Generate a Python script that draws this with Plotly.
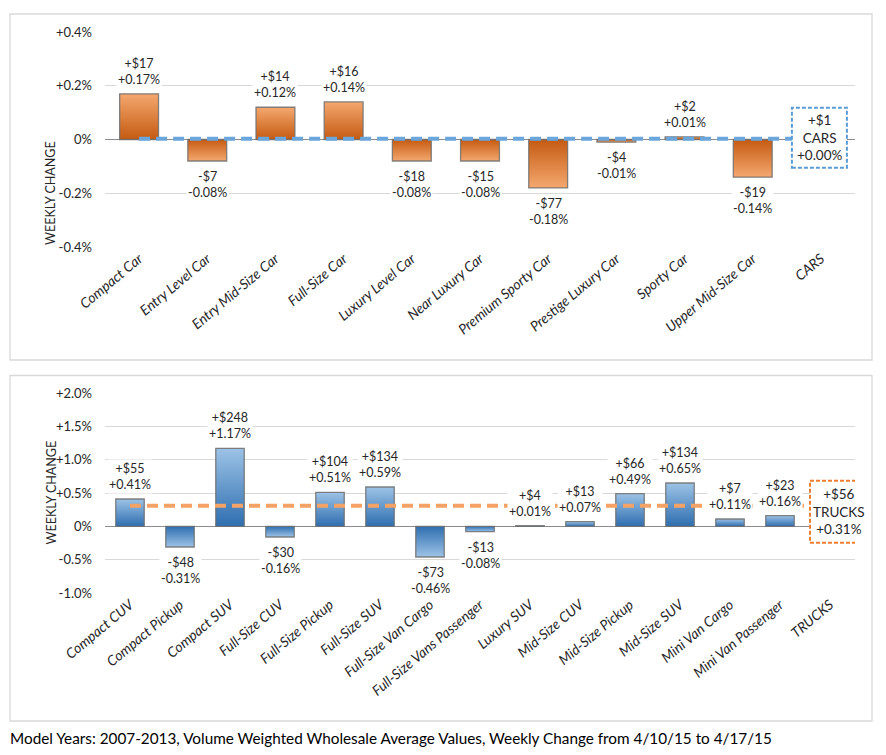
import plotly.graph_objects as go

# ---------------- data ----------------
car_categories = ["Compact Car", "Entry Level Car", "Entry Mid-Size Car", "Full-Size Car",
                  "Luxury Level Car", "Near Luxury Car", "Premium Sporty Car",
                  "Prestige Luxury Car", "Sporty Car", "Upper Mid-Size Car"]
car_total_label = "CARS"
car_pct = [0.17, -0.08, 0.12, 0.14, -0.08, -0.08, -0.18, -0.01, 0.01, -0.14]
car_dollars = [17, -7, 14, 16, -18, -15, -77, -4, 2, -19]
car_total_pct = 0.003
car_total_dollars = 1
car_yticks = [0.4, 0.2, 0, -0.2, -0.4]
car_yticktext = ["+0.4%", "+0.2%", "0%", "-0.2%", "-0.4%"]

truck_categories = ["Compact CUV", "Compact Pickup", "Compact SUV", "Full-Size CUV",
                    "Full-Size Pickup", "Full-Size SUV", "Full-Size Van Cargo",
                    "Full-Size Vans Passenger", "Luxury SUV", "Mid-Size CUV",
                    "Mid-Size Pickup", "Mid-Size SUV", "Mini Van Cargo", "Mini Van Passenger"]
truck_total_label = "TRUCKS"
truck_pct = [0.41, -0.31, 1.17, -0.16, 0.51, 0.59, -0.46, -0.08, 0.01, 0.07, 0.49, 0.65, 0.11, 0.16]
truck_dollars = [55, -48, 248, -30, 104, 134, -73, -13, 4, 13, 66, 134, 7, 23]
truck_total_pct = 0.31
truck_total_dollars = 56
truck_yticks = [2.0, 1.5, 1.0, 0.5, 0, -0.5, -1.0]
truck_yticktext = ["+2.0%", "+1.5%", "+1.0%", "+0.5%", "0%", "-0.5%", "-1.0%"]

footer_text = "Model Years: 2007-2013, Volume Weighted Wholesale Average Values, Weekly Change from 4/10/15 to 4/17/15"

# ---------------- layout geometry ----------------
W, H = 886, 755
FONT = "Lato"
TXT = "#262626"


def px_x(p):
    return p / W


def px_y(p):
    return 1 - p / H


def money(v):
    return ("+$" if v >= 0 else "-$") + str(abs(v))


def pct(v):
    return f"{v:+.2f}%"


fig = go.Figure()

panels = [
    dict(cats=car_categories, total=car_total_label, pct=car_pct, dol=car_dollars,
         tpct=car_total_pct, tdol=car_total_dollars, ticks=car_yticks, ticktext=car_yticktext,
         rng=[-0.4, 0.4], dom=[px_y(247), px_y(32)], xa="x", ya="y",
         light="#F4A86F", dark="#C55A11", line="#6AA6DC", boxline="#5B9BD5",
         box=dict(x0=-29, x1=26, y0=-29, y1=31), shift=(-1, 1)),
    dict(cats=truck_categories, total=truck_total_label, pct=truck_pct, dol=truck_dollars,
         tpct=truck_total_pct, tdol=truck_total_dollars, ticks=truck_yticks, ticktext=truck_yticktext,
         rng=[-1.0, 2.0], dom=[px_y(593), px_y(393)], xa="x2", ya="y2",
         light="#9DC3E6", dark="#2E6EB0", line="#F4A265", boxline="#ED7D31",
         box=dict(x0=-20, x1=38, y0=-37, y1=25), shift=(9, -6)),
]

annotations = []
shapes = []

for i, P in enumerate(panels):
    all_cats = P["cats"] + [P["total"]]
    fig.add_trace(go.Bar(
        x=P["cats"], y=P["pct"], xaxis=P["xa"], yaxis=P["ya"],
        marker=dict(color=P["dark"], line=dict(color="rgba(110,110,110,0.85)", width=1.3)),
        width=0.57, meta=[P["light"], P["dark"]], hoverinfo="skip", showlegend=False,
    ))
    fig.add_trace(go.Scatter(
        x=[P["cats"][0], P["total"]], y=[P["tpct"], P["tpct"]],
        xaxis=P["xa"], yaxis=P["ya"], mode="lines",
        line=dict(color=P["line"], width=4, dash="11px,6px"),
        hoverinfo="skip", showlegend=False,
    ))
    # data labels
    for c, v, d in zip(P["cats"], P["pct"], P["dol"]):
        annotations.append(dict(
            x=c, y=v, xref=P["xa"], yref=P["ya"], text=f"{money(d)}<br>{pct(v)}",
            showarrow=False, yanchor="bottom" if v >= 0 else "top",
            yshift=5 if v >= 0 else -6, bgcolor="white", borderpad=1,
            font=dict(family=FONT, size=12.5, color=TXT),
        ))
    # total box
    b = P["box"]
    shapes.append(dict(
        type="rect", xref=P["xa"], yref=P["ya"], xsizemode="pixel", ysizemode="pixel",
        xanchor=P["total"], yanchor=P["tpct"], x0=b["x0"], x1=b["x1"], y0=b["y0"], y1=b["y1"],
        line=dict(color=P["boxline"], width=2, dash="4px,2px"),
        fillcolor="white", layer="above",
    ))
    annotations.append(dict(
        x=P["total"], y=P["tpct"], xref=P["xa"], yref=P["ya"],
        text=f"{money(P['tdol'])}<br>{P['total']}<br>{pct(P['tpct'])}",
        showarrow=False, xshift=P["shift"][0], yshift=P["shift"][1],
        font=dict(family=FONT, size=13.5, color=TXT),
    ))
    # axis title
    annotations.append(dict(
        x=px_x(41), y=(P["dom"][0] + P["dom"][1]) / 2, xref="paper", yref="paper",
        text="WEEKLY CHANGE", textangle=-90, showarrow=False,
        font=dict(family=FONT, size=12.5, color=TXT),
    ))
    xkey = "xaxis" if i == 0 else "xaxis2"
    ykey = "yaxis" if i == 0 else "yaxis2"
    fig.update_layout(**{
        xkey: dict(domain=[px_x(105), px_x(855)], anchor=P["ya"], type="category",
                   categoryorder="array", categoryarray=all_cats,
                   range=[-0.5, len(all_cats) - 0.5], tickangle=-40,
                   tickfont=dict(family=FONT, size=14, color=TXT, style="italic"),
                   showgrid=False, showline=False, ticks="", automargin=False,
                   fixedrange=True),
        ykey: dict(domain=P["dom"], anchor=P["xa"], range=P["rng"],
                   tickvals=P["ticks"], ticktext=P["ticktext"],
                   tickfont=dict(family=FONT, size=13, color=TXT),
                   showgrid=True, gridcolor="#D9D9D9", gridwidth=1,
                   zeroline=True, zerolinecolor="#8C8C8C", zerolinewidth=1,
                   showline=False, ticks="", ticklabelstandoff=12, automargin=False,
                   fixedrange=True),
    })

# panel borders
for top, bottom in [(14, 360), (375.5, 721)]:
    shapes.append(dict(type="rect", xref="paper", yref="paper",
                       x0=px_x(10), x1=px_x(872), y0=px_y(bottom), y1=px_y(top),
                       line=dict(color="#D9D9D9", width=1.3), fillcolor="rgba(0,0,0,0)",
                       layer="below"))

annotations.append(dict(
    x=px_x(8), y=px_y(738), xref="paper", yref="paper", xanchor="left", yanchor="middle",
    text=footer_text, showarrow=False, font=dict(family=FONT, size=15.3, color="#000000"),
))

fig.update_layout(
    width=W, height=H, margin=dict(l=0, r=0, t=0, b=0),
    paper_bgcolor="white", plot_bgcolor="white",
    bargap=0.43, annotations=annotations, shapes=shapes,
    font=dict(family=FONT, color=TXT),
)

post = r"""
document.body.style.margin = '0';
var gd = document.getElementById('{plot_id}');
var NS = 'http://www.w3.org/2000/svg';
function mkGrad(defs, id, top, bottom) {
  if (document.getElementById(id)) return;
  var g = document.createElementNS(NS, 'linearGradient');
  g.setAttribute('id', id);
  g.setAttribute('x1', '0'); g.setAttribute('y1', '0');
  g.setAttribute('x2', '0'); g.setAttribute('y2', '1');
  var s1 = document.createElementNS(NS, 'stop');
  s1.setAttribute('offset', '0'); s1.setAttribute('stop-color', top);
  var s2 = document.createElementNS(NS, 'stop');
  s2.setAttribute('offset', '1'); s2.setAttribute('stop-color', bottom);
  g.appendChild(s1); g.appendChild(s2); defs.appendChild(g);
}
function applyGrad() {
  var svg = gd.querySelector('svg.main-svg');
  if (!svg) return;
  var defs = svg.querySelector('defs');
  if (!defs) { defs = document.createElementNS(NS, 'defs'); svg.insertBefore(defs, svg.firstChild); }
  var traces = gd.querySelectorAll('.barlayer .trace');
  traces.forEach(function(tr, k) {
    var cd = tr.__data__;
    if (!cd || !cd[0] || !cd[0].trace) return;
    var t = cd[0].trace;
    var light = t.meta[0], dark = t.meta[1];
    var idP = 'gradP' + t.index, idN = 'gradN' + t.index;
    mkGrad(defs, idP, light, dark);
    mkGrad(defs, idN, dark, light);
    tr.querySelectorAll('.point').forEach(function(p, j) {
      var d = p.__data__;
      var v = (d && d.s !== undefined) ? d.s : t.y[j];
      var path = p.querySelector('path');
      if (path) path.style.fill = 'url(#' + (v >= 0 ? idP : idN) + ')';
    });
  });
}
applyGrad();
gd.on('plotly_afterplot', applyGrad);
"""

fig.write_html("out.html", post_script=post, config={"displayModeBar": False})
